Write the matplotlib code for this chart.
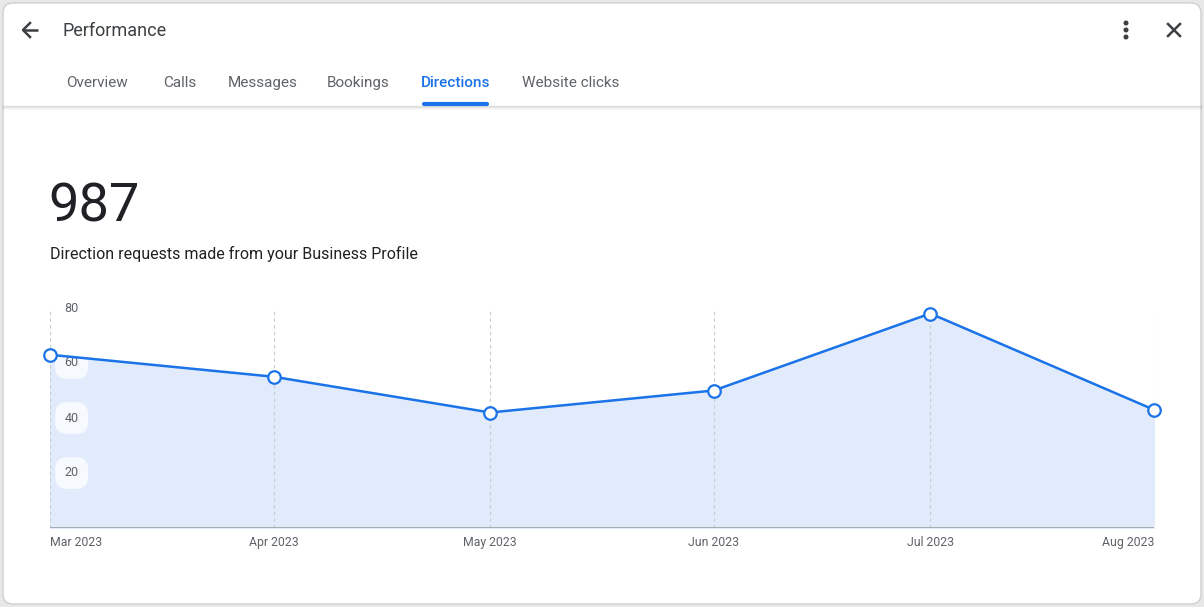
import datetime as dt
import matplotlib
matplotlib.use("Agg")
import matplotlib.pyplot as plt
import matplotlib.dates as mdates
from matplotlib.patches import FancyBboxPatch, Circle

plt.rcParams['font.family'] = ['Roboto', 'DejaVu Sans']

# data
months = [dt.date(2023, 3, 1), dt.date(2023, 4, 1), dt.date(2023, 5, 1),
          dt.date(2023, 6, 1), dt.date(2023, 7, 1), dt.date(2023, 8, 1)]
month_labels = ["Mar 2023", "Apr 2023", "May 2023", "Jun 2023", "Jul 2023", "Aug 2023"]
directions = [63, 55, 42, 50, 78, 43]
y_ticks = [20, 40, 60, 80]
tabs = ["Overview", "Calls", "Messages", "Bookings", "Directions", "Website clicks"]
tab_x = [66, 163, 228, 327, 421, 522]
total = "987"
subtitle = "Direction requests made from your Business Profile"

BLUE = "#1a73e8"
FILL = "#e2ebfb"
GREY_TXT = "#5f6368"

W, H = 1204, 607
fig = plt.figure(figsize=(W / 100, H / 100), dpi=100)
fig.patch.set_facecolor("#e8e8e8")

# overlay in pixel coords for the card / header
bg = fig.add_axes([0, 0, 1, 1], zorder=0)
bg.set_xlim(0, W)
bg.set_ylim(H, 0)
bg.axis("off")
bg.add_patch(FancyBboxPatch((3, 3), W - 6, H - 6, boxstyle="round,pad=0,rounding_size=10",
                            facecolor="white", edgecolor="#cfcfcf", linewidth=1))
# header shadow
for i, a in enumerate([0.25, 0.15, 0.08, 0.04]):
    bg.plot([3, W - 3], [106 + i, 106 + i], color="#888888", alpha=a, lw=1)

# back arrow
bg.plot([23, 38], [30, 30], color="#3c4043", lw=1.8, solid_capstyle="butt")
bg.plot([30, 23, 30], [23, 30, 37], color="#3c4043", lw=1.8)
bg.text(62, 31, "Performance", fontsize=13, color="#3c4043", va="center", ha="left")
# menu dots and close
for yy in [23, 30, 37]:
    bg.add_patch(Circle((1126, yy), 1.8, color="#3c4043"))
bg.plot([1168, 1180], [24, 36], color="#3c4043", lw=1.8)
bg.plot([1168, 1180], [36, 24], color="#3c4043", lw=1.8)

for name, x in zip(tabs, tab_x):
    active = name == "Directions"
    bg.text(x, 83, name, fontsize=11, color=BLUE if active else GREY_TXT,
            va="center", ha="left", fontweight="medium" if active else "normal")
bg.plot([424, 487], [104, 104], color=BLUE, lw=3, solid_capstyle="round")

bg.text(48, 207, total, fontsize=39, color="#202124", va="center", ha="left")
bg.text(50, 254, subtitle, fontsize=11.5, color="#202124", va="center", ha="left")

# chart
ax = fig.add_axes([50 / W, 1 - 528 / H, 1104 / W, 220 / H], zorder=1)
ax.patch.set_alpha(0)
ax.set_xlim(mdates.date2num(months[0]), mdates.date2num(months[-1]))
ax.set_ylim(0, 80)
for s in ax.spines.values():
    s.set_visible(False)
ax.axhline(0, color="#9aa0a6", lw=1.2, zorder=2)
for m in months:
    ax.axvline(mdates.date2num(m), color="#c8ccd2", lw=0.8, ls=(0, (3, 3)), zorder=1.5)

xs = mdates.date2num(months)
ax.fill_between(xs, directions, 0, color=FILL, zorder=1)
ax.plot(xs, directions, color=BLUE, lw=1.8, zorder=3,
        marker="o", markersize=9, markerfacecolor="white", markeredgecolor=BLUE,
        markeredgewidth=1.6, clip_on=False)

ax.set_yticks([])
ax.set_xticks(xs)
ax.set_xticklabels(month_labels)
ax.tick_params(axis="x", length=0, pad=6, labelsize=8.8, labelcolor=GREY_TXT)
labels = ax.get_xticklabels()
labels[0].set_ha("left")
labels[-1].set_ha("right")

for v in y_ticks:
    box = None if v == 80 else dict(boxstyle="round,pad=0.75,rounding_size=0.95",
                                    facecolor="white", edgecolor="none", alpha=0.7)
    ax.text(mdates.date2num(dt.date(2023, 3, 4)), v, str(v), fontsize=9, color=GREY_TXT,
            ha="center", va="center", bbox=box, zorder=2)

fig.savefig("out.png", dpi=100, facecolor=fig.get_facecolor())
